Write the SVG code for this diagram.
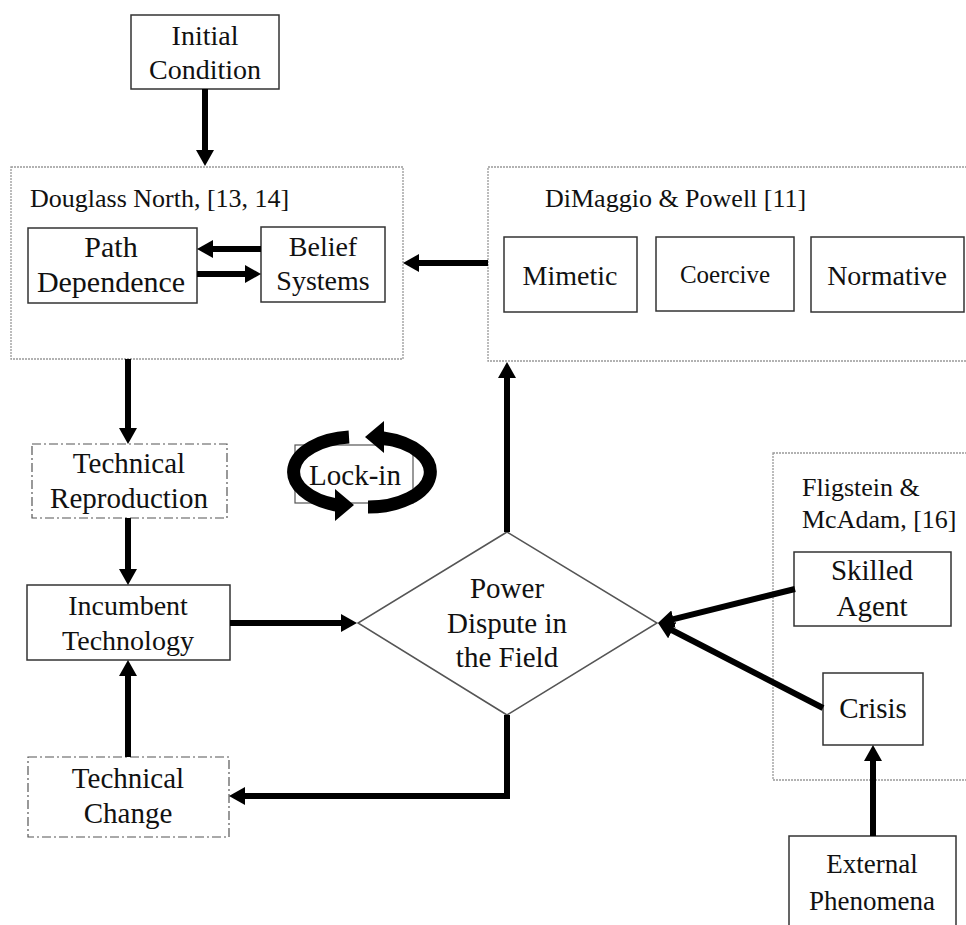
<svg xmlns="http://www.w3.org/2000/svg" width="966" height="925" viewBox="0 0 966 925" font-family="'Liberation Serif', 'Times New Roman', Times, serif">
<style>
text{fill:#111;}
.n{font-size:28px;text-anchor:middle;}
.lbl{font-size:26px;}
.box{fill:#fff;stroke:#333;stroke-width:1.5;}
.grp{fill:#fff;stroke:#999;stroke-width:1.3;stroke-dasharray:2 1;}
.dd{fill:#fff;stroke:#555;stroke-width:1.2;stroke-dasharray:9 3 2 3;}
.c{fill:none;stroke:#000;stroke-width:6;marker-end:url(#ah);}
</style>
<defs>
<marker id="ah" markerUnits="userSpaceOnUse" markerWidth="16" markerHeight="18" refX="4" refY="9" orient="auto">
<path d="M0,0 L16,9 L0,18 z" fill="#000"/>
</marker>
</defs>
<rect width="966" height="925" fill="#fff"/>

<g id="north-group">
<rect class="grp" x="11" y="167" width="392" height="192"/>
<text class="lbl" x="30" y="207">Douglass North, [13, 14]</text>
</g>
<g id="dimaggio-group">
<rect class="grp" x="488" y="167" width="490" height="194"/>
<text class="lbl" x="545" y="207">DiMaggio &amp; Powell [11]</text>
</g>
<g id="fligstein-group">
<rect class="grp" x="773" y="453" width="205" height="327"/>
<text class="lbl" x="802" y="496">Fligstein &amp;</text>
<text class="lbl" x="802" y="528">McAdam,  [16]</text>
</g>

<g id="initial-condition">
<rect class="box" x="131" y="15" width="148" height="74"/>
<text class="n" x="205" y="45">Initial</text>
<text class="n" x="205" y="79">Condition</text>
</g>
<g id="path-dependence">
<rect class="box" x="28" y="228" width="169" height="75"/>
<text class="n" x="111" y="257" style="font-size:30px">Path</text>
<text class="n" x="111" y="292" style="font-size:30px">Dependence</text>
</g>
<g id="belief-systems">
<rect class="box" x="261" y="227" width="124" height="75"/>
<text class="n" x="323" y="256">Belief</text>
<text class="n" x="323" y="290">Systems</text>
</g>
<g id="mimetic">
<rect class="box" x="504" y="237" width="133" height="75"/>
<text class="n" x="570" y="285">Mimetic</text>
</g>
<g id="coercive">
<rect class="box" x="656" y="237" width="138" height="74"/>
<text class="n" x="725" y="283" style="font-size:25px">Coercive</text>
</g>
<g id="normative">
<rect class="box" x="811" y="237" width="153" height="75"/>
<text class="n" x="887" y="285">Normative</text>
</g>
<g id="technical-reproduction">
<rect class="dd" x="32" y="444" width="195" height="74"/>
<text class="n" x="129" y="473" style="font-size:29px">Technical</text>
<text class="n" x="129" y="508" style="font-size:29px">Reproduction</text>
</g>
<g id="lock-in">
<rect x="295" y="445" width="118" height="58" fill="#fff" stroke="#555" stroke-width="1.2"/>
<path d="M349,437 A62,35 0 0 0 336,505" fill="none" stroke="#000" stroke-width="13"/>
<path d="M368,507 A62,35 0 0 0 383,438" fill="none" stroke="#000" stroke-width="13"/>
<polygon points="354,505 335,489 335,521" fill="#000"/>
<polygon points="365,437 384,421 384,453" fill="#000"/>
<text class="n" x="355" y="485" style="font-size:29px">Lock-in</text>
</g>
<g id="incumbent-technology">
<rect class="box" x="27" y="585" width="203" height="75"/>
<text class="n" x="128" y="615">Incumbent</text>
<text class="n" x="128" y="650">Technology</text>
</g>
<g id="technical-change">
<rect class="dd" x="28" y="757" width="201" height="80"/>
<text class="n" x="128" y="788" style="font-size:29px">Technical</text>
<text class="n" x="128" y="823" style="font-size:29px">Change</text>
</g>
<g id="power-dispute">
<polygon points="507,532 657,623 507,715 358,623" fill="#fff" stroke="#555" stroke-width="1.5"/>
<text class="n" x="507" y="598" style="font-size:29px">Power</text>
<text class="n" x="507" y="633" style="font-size:29px">Dispute in</text>
<text class="n" x="507" y="667" style="font-size:29px">the Field</text>
</g>
<g id="skilled-agent">
<rect class="box" x="794" y="552" width="157" height="74"/>
<text class="n" x="872" y="580" style="font-size:29px">Skilled</text>
<text class="n" x="872" y="616" style="font-size:29px">Agent</text>
</g>
<g id="crisis">
<rect class="box" x="823" y="673" width="100" height="72"/>
<text class="n" x="873" y="718" style="font-size:29px">Crisis</text>
</g>
<g id="external-phenomena">
<rect class="box" x="789" y="836" width="167" height="100"/>
<text class="n" x="872" y="873" style="font-size:27px">External</text>
<text class="n" x="872" y="910" style="font-size:27px">Phenomena</text>
</g>

<g id="connectors">
<path class="c" d="M205,89 V154"/>
<path class="c" d="M261,249 H209"/>
<path class="c" d="M197,274 H249"/>
<path class="c" d="M488,263 H415"/>
<path class="c" d="M128,359 V432"/>
<path class="c" d="M128,518 V573"/>
<path class="c" d="M128,757 V672"/>
<path class="c" d="M230,623 H345"/>
<path class="c" d="M507,532 V374"/>
<path class="c" d="M507,715 V796 H241"/>
<path class="c" d="M795,589 L669.6,620.1"/>
<path class="c" d="M823,708 L668.7,628.5"/>
<path class="c" d="M873,836 V757"/>
</g>
</svg>
